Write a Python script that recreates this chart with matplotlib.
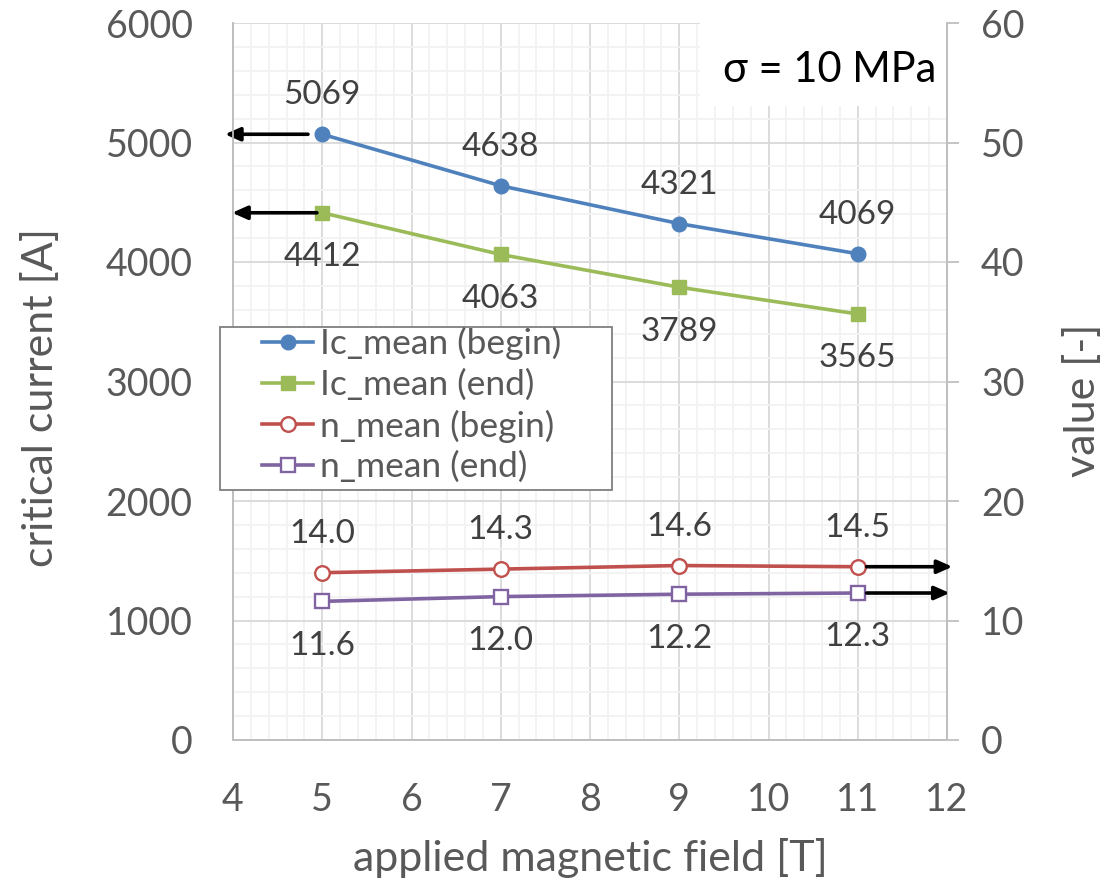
import numpy as np
import matplotlib.pyplot as plt
from matplotlib.ticker import MultipleLocator
from matplotlib.patches import Rectangle

plt.rcParams['font.family'] = ['Lato', 'DejaVu Sans']

# Messwerte
field = [5, 7, 9, 11]
ic_begin = [5069, 4638, 4321, 4069]
ic_end = [4412, 4063, 3789, 3565]
n_begin = [14.0, 14.3, 14.6, 14.5]
n_end = [11.6, 12.0, 12.2, 12.3]

W, H = 1120, 882
fig = plt.figure(figsize=(W/100, H/100), dpi=100)
fig.subplots_adjust(left=233/W, right=947/W, top=1-23/H, bottom=1-740/H)
ax = fig.add_subplot(111)
ax2 = ax.twinx()

tick_col = '#595959'
lab_col = '#404040'

# achsen
ax.set_xlim(4, 12)
ax.set_ylim(0, 6000)
ax2.set_ylim(0, 60)
ax.xaxis.set_major_locator(MultipleLocator(1))
ax.xaxis.set_minor_locator(MultipleLocator(0.2))
ax.yaxis.set_major_locator(MultipleLocator(1000))
ax.yaxis.set_minor_locator(MultipleLocator(200))
ax2.yaxis.set_major_locator(MultipleLocator(10))

ax.grid(which='major', color='#d9d9d9', lw=1.3, zorder=0)
ax.grid(which='minor', color='#f2f2f2', lw=1.3, zorder=0)
ax.set_axisbelow(True)

for a in (ax, ax2):
    for s in a.spines.values():
        s.set_color('#bfbfbf')
        s.set_linewidth(1.3)
    a.spines['top'].set_visible(False)

ax.tick_params(axis='both', which='both', length=0, labelsize=27, labelcolor=tick_col)
ax.tick_params(axis='y', pad=29)
ax.tick_params(axis='x', pad=30)
ax2.tick_params(axis='y', which='major', length=8.5, width=1.3, color='#bfbfbf',
                labelsize=27, labelcolor=tick_col, pad=16)

ax.set_xlabel('applied magnetic field [T]', fontsize=31, color=tick_col)
ax.set_ylabel('critical current [A]', fontsize=31, color=tick_col)
ax2.set_ylabel('value [-]', fontsize=31, color=tick_col)
ax.xaxis.set_label_coords(0.5, -0.137)
ax.yaxis.set_label_coords(-0.242, 0.478)
ax2.yaxis.set_label_coords(1.163, 0.474)

# weisser kasten hinter sigma
ax.add_patch(Rectangle((700/W, 1-106/H), (946-700)/W, 83/H, transform=fig.transFigure,
                       fc='white', ec='none', zorder=1))
fig.text(830/W, 1-70/H, 'σ = 10 MPa', fontsize=30, color='black', ha='center', va='center')

# kurven
l1, = ax.plot(field, ic_begin, '-o', color='#4f81bd', lw=2.6, ms=10.5, label='Ic_mean (begin)', zorder=3)
l2, = ax.plot(field, ic_end, '-s', color='#9bbb59', lw=2.6, ms=10, label='Ic_mean (end)', zorder=3)
l3, = ax2.plot(field, n_begin, '-o', color='#c0504d', lw=2.6, ms=10.5, mfc='white', mew=1.7,
               label='n_mean (begin)', zorder=3)
l4, = ax2.plot(field, n_end, '-s', color='#8064a2', lw=2.6, ms=10, mfc='white', mew=1.7,
               label='n_mean (end)', zorder=3)

# datenbeschriftungen
for x, y in zip(field, ic_begin):
    ax.annotate(str(y), (x, y), xytext=(0, 28), textcoords='offset points',
                ha='center', va='center', fontsize=24, color=lab_col)
for x, y in zip(field, ic_end):
    ax.annotate(str(y), (x, y), xytext=(0, -32), textcoords='offset points',
                ha='center', va='center', fontsize=24, color=lab_col)
for x, y in zip(field, n_begin):
    ax2.annotate('%.1f' % y, (x, y), xytext=(0, 28), textcoords='offset points',
                 ha='center', va='center', fontsize=24, color=lab_col)
for x, y in zip(field, n_end):
    ax2.annotate('%.1f' % y, (x, y), xytext=(0, -32), textcoords='offset points',
                 ha='center', va='center', fontsize=24, color=lab_col)

# pfeile zur jeweiligen achse
arr = dict(arrowstyle='-|>,head_length=0.9,head_width=0.4', color='black', lw=2.6,
           shrinkA=0, shrinkB=0)
ax.annotate('', xy=(3.91, ic_begin[0]), xytext=(4.84, ic_begin[0]), arrowprops=arr,
            annotation_clip=False, zorder=5)
ax.annotate('', xy=(3.99, ic_end[0]), xytext=(4.94, ic_end[0]), arrowprops=arr,
            annotation_clip=False, zorder=5)
ax2.annotate('', xy=(12.06, n_begin[-1]), xytext=(11.10, n_begin[-1]), arrowprops=arr,
             annotation_clip=False, zorder=5)
ax2.annotate('', xy=(12.03, n_end[-1]), xytext=(11.10, n_end[-1]), arrowprops=arr,
             annotation_clip=False, zorder=5)

# legende mit eigenem rahmen (excel hat viel rand)
fig.add_artist(Rectangle((220/W, 1-490/H), 392/W, 163/H, transform=fig.transFigure,
                         fc='white', ec='#7f7f7f', lw=1.3, zorder=4))
leg = fig.legend(handles=[l1, l2, l3, l4], loc='upper left',
                 bbox_to_anchor=(262/W, 1-327/H), fontsize=25.5, frameon=False,
                 handlelength=1.45, handletextpad=0.2, labelspacing=0.24,
                 borderpad=0, borderaxespad=0)
leg.set_zorder(5)
for t in leg.get_texts():
    t.set_color(tick_col)

plt.savefig('out.png', dpi=100)
